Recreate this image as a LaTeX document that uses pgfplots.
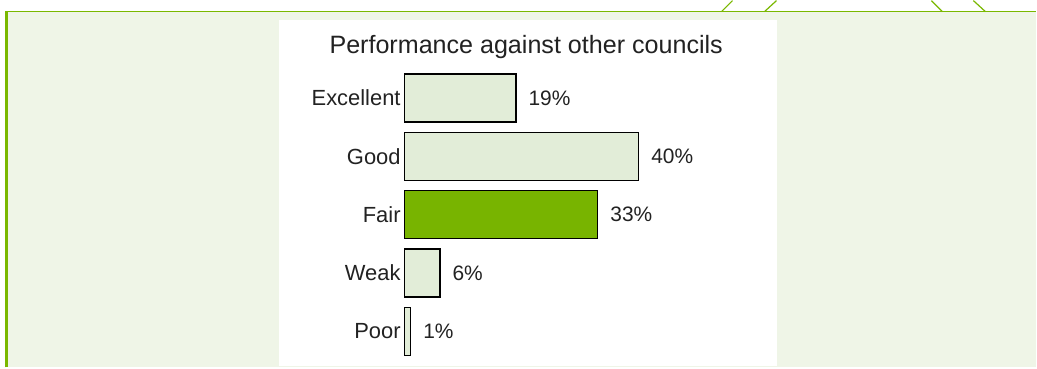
\documentclass[border=0pt]{standalone}
\usepackage{pgfplots}
\pgfplotsset{compat=1.18}
\usepackage{fontspec}
\setmainfont{Liberation Sans}
\definecolor{panel}{HTML}{EFF5E7}
\definecolor{frame}{HTML}{7AB800}
\definecolor{barlight}{HTML}{E2EDD8}
\definecolor{bargreen}{HTML}{78B400}
\definecolor{txt}{HTML}{222222}
\begin{document}
\begin{tikzpicture}[x=1bp,y=1bp]
\fill[white] (0,0) rectangle (1037,367);
\fill[panel] (7,0) rectangle (1037,356);
\fill[white] (279,1) rectangle (777,348);
\draw[frame, line width=1.3bp] (7,356) -- (1037,356);
\draw[frame, line width=3bp] (7,0) -- (7,356.6);
\draw[frame, line width=1.2bp] (722,356) -- (733,367) (765,356) -- (777,367) (943,356) -- (932,367) (986,356) -- (974,367);
\node[anchor=base, font=\fontsize{25.2}{29}\selectfont, text=txt, inner sep=0pt] at (526.5,313.7) {Performance against other councils};
\begin{axis}[
  at={(405bp,6.7bp)}, anchor=south west,
  scale only axis, width=292.5bp, height=292bp,
  xmin=0, xmax=50, ymin=-0.5, ymax=4.5, y dir=reverse,
  xbar, bar width=48bp, bar shift=0pt,
  axis line style={draw=none}, tick style={draw=none}, major tick length=0pt,
  xtick=\empty, ytick={0,1,2,3,4},
  yticklabels={Excellent,Good,Fair,Weak,Poor},
  yticklabel style={inner sep=0pt, anchor=east, xshift=-4bp, font=\fontsize{22}{26}\selectfont, text=txt},
  clip=false,
  /pgf/number format/assume math mode=true,
  nodes near coords={\pgfmathprintnumber{\pgfplotspointmeta}\%},
  nodes near coords style={anchor=west, inner sep=0pt, xshift=12bp, font=\fontsize{21}{25}\selectfont, text=txt},
]
\addplot[draw=black, line width=1.4bp, fill=barlight] coordinates {(19,0) (40,1) (6,3) (1,4)};
\addplot[draw=black, line width=1.4bp, fill=bargreen] coordinates {(33,2)};
\end{axis}
\end{tikzpicture}
\end{document}
